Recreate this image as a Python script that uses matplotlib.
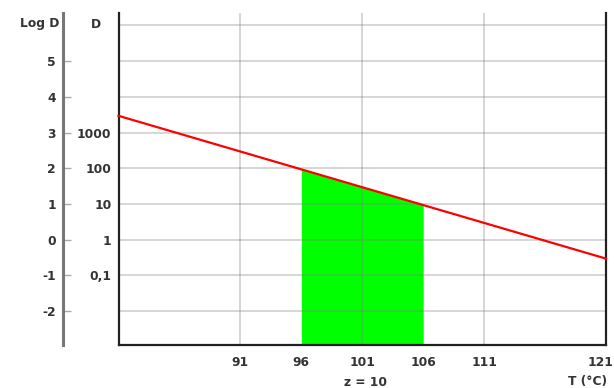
import matplotlib
matplotlib.use("Agg")
import matplotlib.pyplot as plt
from matplotlib.transforms import ScaledTranslation

# Data
T_line = [81, 121]
logD_line = [3.47, -0.53]
T_fill = [96, 106]
logD_fill = [1.97, 0.97]
x_ticks = [91, 96, 101, 106, 111, 121]
x_grid = [91, 101, 111]
y_grid = [-2, -1, 0, 1, 2, 3, 4, 5, 6]
logd_ticks = [5, 4, 3, 2, 1, 0, -1, -2]
d_ticks = [3, 2, 1, 0, -1]
d_labels = ["1000", "100", "10", "1", "0,1"]

plt.rcParams['font.family'] = ['DejaVu Sans']
txt = '#333333'
fs = 8.8

fig = plt.figure(figsize=(6.14, 3.88), dpi=100)
W, H = 614, 388
left, right, bottom, top = 118.5, 606, 345, 13
ax = fig.add_axes([left / W, (H - bottom) / H, (right - left) / W, (bottom - top) / H])
ax.set_xlim(81, 121)
ax.set_ylim(-2.95, 6.35)

ax.fill_between(T_fill, logD_fill, -2.95, color='#00ff00', zorder=1, lw=0)
for g in y_grid:
    ax.axhline(g, color='#808080', alpha=0.32, lw=1.4, zorder=2)
for g in x_grid:
    ax.axvline(g, color='#808080', alpha=0.32, lw=1.4, zorder=2)
ax.plot(T_line, logD_line, color='#ff0000', lw=1.6, zorder=3, clip_on=False)

for s in ['left', 'bottom', 'right']:
    ax.spines[s].set_color('#222222')
    ax.spines[s].set_linewidth(1.6)
ax.spines['top'].set_visible(False)

ax.set_xticks(x_ticks)
ax.set_xticklabels([str(v) for v in x_ticks], fontsize=fs, fontweight='bold', color=txt)
ax.tick_params(axis='x', length=0, pad=8)
last = ax.get_xticklabels()[-1]
last.set_horizontalalignment('right')
last.set_transform(last.get_transform() + ScaledTranslation(7 / 100, 0, fig.dpi_scale_trans))
ax.set_yticks(d_ticks)
ax.set_yticklabels(d_labels, fontsize=fs, fontweight='bold', color=txt)
ax.tick_params(axis='y', length=0, pad=5)

fig.text(365 / W, 1 - 382 / H, 'z = 10', fontsize=fs, fontweight='bold', color=txt,
         ha='center', va='center')
fig.text(587 / W, 1 - 382 / H, 'T (°C)', fontsize=fs, fontweight='bold', color=txt,
         ha='center', va='center')
fig.text(96 / W, 1 - 24 / H, 'D', fontsize=fs, fontweight='bold', color=txt,
         ha='center', va='center')
fig.text(59 / W, 1 - 24 / H, 'Log D', fontsize=fs, fontweight='bold', color=txt,
         ha='right', va='center')

# secondary Log D axis
ax2 = fig.add_axes([63 / W, (H - bottom) / H, 0.001, (bottom - top) / H])
ax2.set_ylim(-2.95, 6.35)
ax2.set_xticks([])
for s in ['top', 'bottom', 'right']:
    ax2.spines[s].set_visible(False)
ax2.spines['left'].set_color('#777777')
ax2.spines['left'].set_linewidth(2.2)
ax2.patch.set_visible(False)
ax2.set_yticks(logd_ticks)
ax2.set_yticklabels([str(v) for v in logd_ticks], fontsize=fs, fontweight='bold', color=txt)
ax2.tick_params(axis='y', direction='in', length=6, width=1, color='#aaaaaa', pad=5)

fig.savefig('out.png', dpi=100)
